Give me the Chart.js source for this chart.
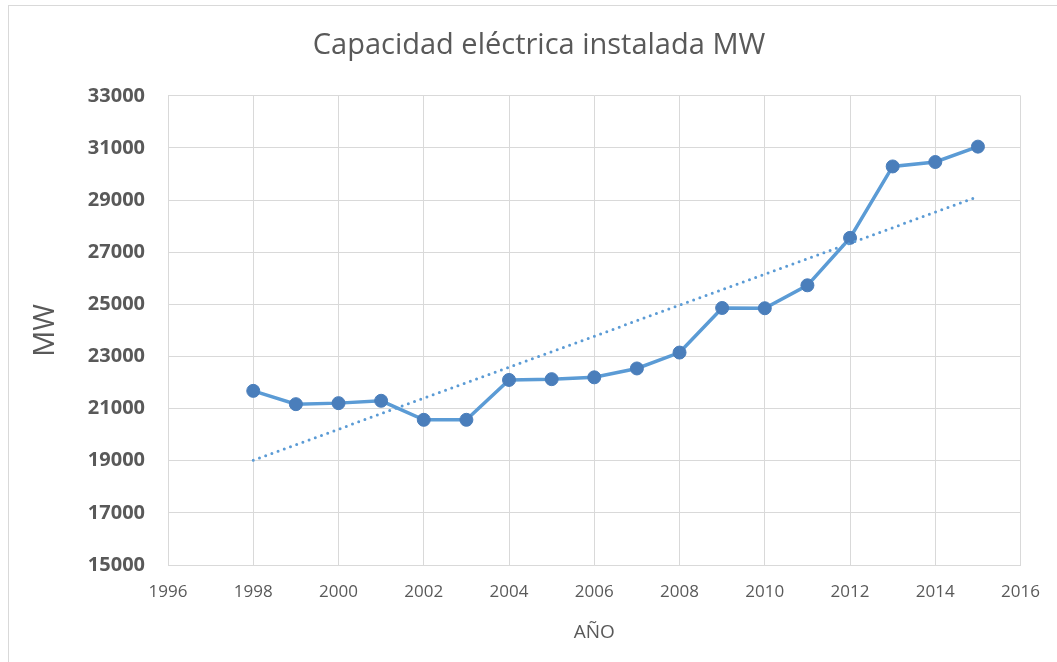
<!DOCTYPE html>
<html>
<head>
<meta charset="utf-8">
<script src="https://cdn.jsdelivr.net/npm/chart.js@4"></script>
<style>
  html, body { margin: 0; padding: 0; background: #fff; overflow: hidden; }
  #wrap { position: relative; width: 1057px; height: 662px; }
  #frame { position: absolute; left: 8px; top: 5px; width: 1200px; height: 800px; border: 1px solid #d9d9d9; pointer-events: none; }
</style>
</head>
<body>
<div id="wrap">
  <canvas id="chart" width="1057" height="662"></canvas>
  <div id="frame"></div>
</div>
<script>
// values
const years = [1998, 1999, 2000, 2001, 2002, 2003, 2004, 2005, 2006, 2007, 2008, 2009, 2010, 2011, 2012, 2013, 2014, 2015];
const capacityMW = [21680, 21170, 21210, 21300, 20570, 20570, 22100, 22130, 22200, 22540, 23150, 24860, 24850, 25730, 27550, 30290, 30460, 31050];
// linear trendline ends, as drawn
const trendYears = [1998, 2015];
const trendMW = [19020, 29130];

const xTicks = { min: 1996, max: 2016, step: 2 };
const yTicks = { min: 15000, max: 33000, step: 2000 };

const gray = '#595959';
const gridColor = '#d9d9d9';
const font = '"Open Sans", "Noto Sans", sans-serif';

const toPoints = (xs, ys) => xs.map((x, i) => ({ x, y: ys[i] }));

new Chart(document.getElementById('chart').getContext('2d'), {
    type: 'line',
    data: {
        datasets: [
            {
                label: 'Capacidad',
                data: toPoints(years, capacityMW),
                borderColor: '#5b9bd5',
                borderWidth: 3.5,
                pointRadius: 6.5,
                pointBackgroundColor: '#4a7ebb',
                pointBorderColor: '#4a7ebb',
                pointBorderWidth: 1,
                tension: 0,
                order: 2,
            },
            {
                label: 'Tendencia',
                data: toPoints(trendYears, trendMW),
                borderColor: '#5b9bd5',
                borderWidth: 3,
                borderDash: [0, 6.6],
                borderCapStyle: 'round',
                pointRadius: 0,
                order: 1,
            },
        ],
    },
    options: {
        responsive: false,
        animation: false,
        layout: { padding: { left: 21, right: 0, top: 0, bottom: 18 } },
        plugins: {
            legend: { display: false },
            tooltip: { enabled: false },
            title: {
                display: true,
                text: 'Capacidad eléctrica instalada MW',
                color: gray,
                font: { family: font, size: 29, weight: 'normal' },
                padding: { top: 28, bottom: 33 },
            },
        },
        scales: {
            x: {
                type: 'linear',
                min: xTicks.min,
                max: xTicks.max,
                afterFit: (s) => { s.height = 79; },
                grid: { color: gridColor, drawTicks: false, lineWidth: 1 },
                border: { color: gridColor },
                ticks: {
                    stepSize: xTicks.step,
                    padding: 17,
                    color: gray,
                    font: { family: font, size: 17 },
                    callback: (v) => String(v),
                },
                title: {
                    display: true,
                    text: 'AÑO',
                    color: gray,
                    font: { family: font, size: 19 },
                    padding: { top: 0, bottom: 0 },
                },
            },
            y: {
                min: yTicks.min,
                max: yTicks.max,
                afterFit: (s) => { s.width = 147; },
                grid: { color: gridColor, drawTicks: false, lineWidth: 1 },
                border: { color: gridColor },
                ticks: {
                    stepSize: yTicks.step,
                    padding: 23,
                    color: gray,
                    font: { family: font, size: 20, weight: 'bold' },
                    callback: (v) => String(v),
                },
                title: {
                    display: true,
                    text: 'MW',
                    color: gray,
                    font: { family: font, size: 29 },
                    padding: { top: 7, bottom: 0 },
                },
            },
            // empty right-hand band so the plot ends where the reference does
            yRight: {
                position: 'right',
                afterFit: (s) => { s.width = 35; },
                grid: { display: false },
                border: { display: false },
                ticks: { display: false },
            },
        },
    },
});
</script>
</body>
</html>
